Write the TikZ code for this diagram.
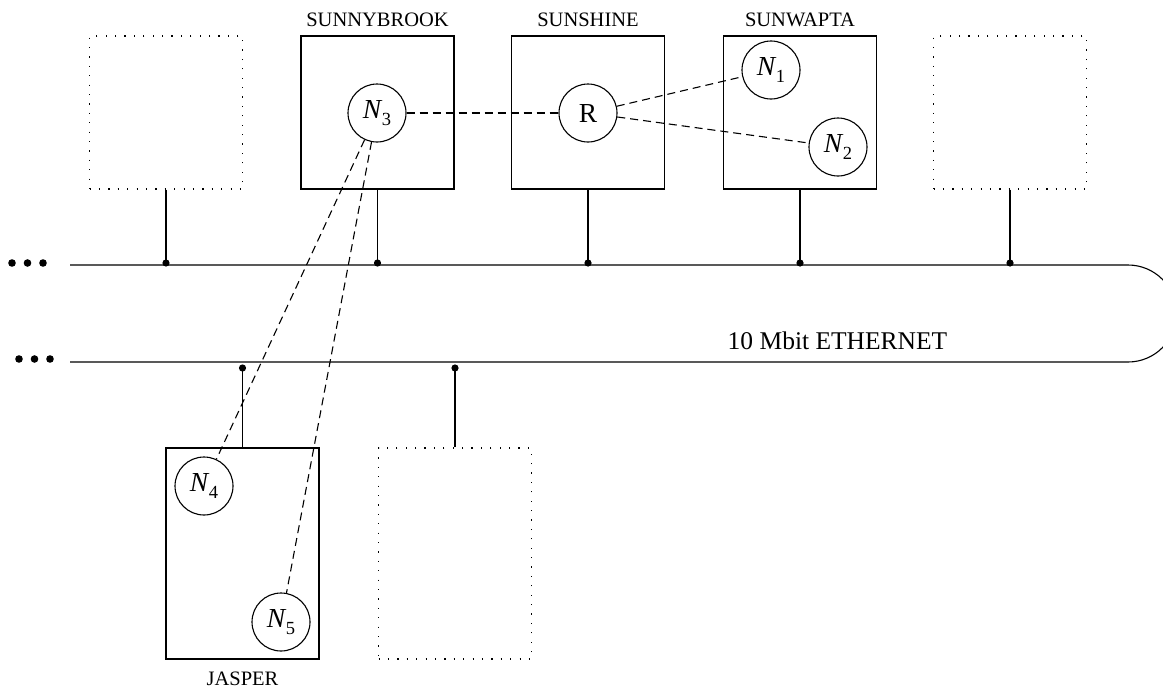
\documentclass[tikz,border=0pt]{standalone}
\usepackage{fontspec}
\setmainfont{Liberation Serif}
\newcommand\Nsub[1]{\textit{N}\kern-0.5pt\raisebox{-7pt}{\fontsize{18.5}{18}\selectfont #1}}
\tikzset{
  line/.style={line width=1.1pt},
  host/.style={draw, line width=1.1pt, rectangle, minimum width=153pt, minimum height=153pt, inner sep=0pt},
  tallhost/.style={host, minimum height=211pt},
  ghost/.style={draw, line width=1.2pt, dash pattern=on 1.2pt off 8.2pt, rectangle, minimum width=153pt, minimum height=153pt, inner sep=0pt},
  tallghost/.style={ghost, minimum height=211pt},
  proc/.style={draw, line width=1.1pt, circle, minimum size=58pt, inner sep=0pt, font=\fontsize{27.5}{30}\selectfont},
  link/.style={line width=1.1pt, dash pattern=on 8pt off 5pt},
  lbl/.style={anchor=base, inner sep=0pt, font=\fontsize{20.5}{22}\selectfont},
}
\begin{document}
\begin{tikzpicture}[x=1pt,y=1pt]
\clip (0,0) rectangle (1163,-688);
% hosts top
\node[ghost] (g1) at (166,-112.5) {};
\node[host] (sb) at (377.5,-112.5) {};
\node[host] (ss) at (588,-112.5) {};
\node[host] (sw) at (800,-112.5) {};
\node[ghost] (g2) at (1010,-112.5) {};
% hosts bottom
\node[tallhost] (ja) at (242.5,-553.5) {};
\node[tallghost] (g3) at (455,-553.5) {};
% labels
\node[lbl] (lsb) at (377.5,-26) {SUNNYBROOK};
\node[lbl] (lss) at (588,-26) {SUNSHINE};
\node[lbl] (lsw) at (800,-26) {SUNWAPTA};
\node[lbl] (lja) at (242.5,-685) {JASPER};
\node[anchor=base, inner sep=0pt, font=\fontsize{25.5}{27}\selectfont] (eth) at (837.5,-349) {10 Mbit ETHERNET};
% bus
\draw[line] (70,-265) -- (1128,-265) arc[start angle=90, end angle=-90, radius=48.5] -- (70,-362);
% taps
\coordinate (t1) at (166,-263);
\coordinate (t2) at (377.5,-263);
\coordinate (t3) at (588,-263);
\coordinate (t4) at (800,-263);
\coordinate (t5) at (1010,-263);
\coordinate (t6) at (242.5,-368);
\coordinate (t7) at (455,-368);
\foreach \b/\t in {g1/t1, sb/t2, ss/t3, sw/t4, g2/t5}{
  \draw[line] (\b.south) -- (\t);
  \fill (\t) circle (3.6);
}
\foreach \b/\t in {ja/t6, g3/t7}{
  \draw[line] (\b.north) -- (\t);
  \fill (\t) circle (3.6);
}
% ellipsis dots
\foreach \x in {12,27.5,43}{\fill (\x,-263) circle (3.8);}
\foreach \x in {19,34.5,50}{\fill (\x,-359) circle (3.8);}
% processes
\node[proc] (n3) at (377,-113) {\Nsub{3}};
\node[proc] (r) at (588,-113) {R};
\node[proc] (n1) at (771,-70) {\Nsub{1}};
\node[proc] (n2) at (838,-147) {\Nsub{2}};
\node[proc] (n4) at (204,-486) {\Nsub{4}};
\node[proc] (n5) at (281,-622) {\Nsub{5}};
% links
\draw[link] (n3) -- (r);
\draw[link] (r) -- (n1);
\draw[link] (r) -- (n2);
\draw[link] (n3) -- (n4);
\draw[link] (n3) -- (n5);
\end{tikzpicture}
\end{document}
